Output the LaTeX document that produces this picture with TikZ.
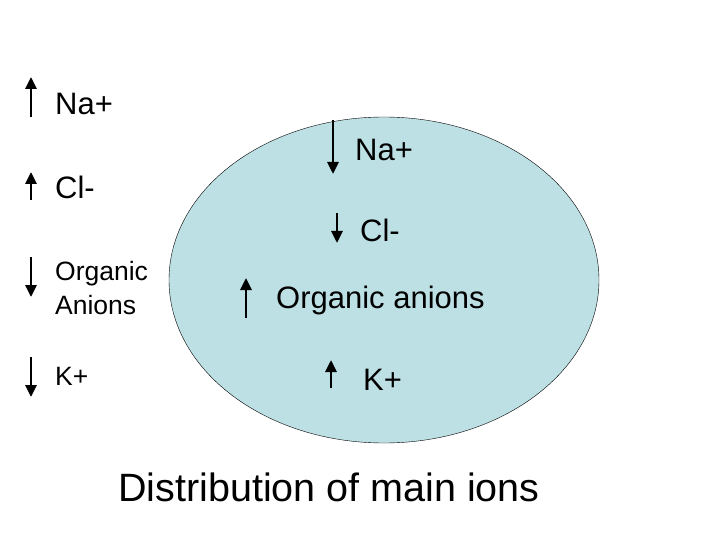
\documentclass[tikz,border=0pt]{standalone}
\usetikzlibrary{arrows.meta,shapes.geometric}
\usepackage{fontspec}
\setmainfont{Liberation Sans}
\definecolor{cell}{HTML}{BDE0E4}
\begin{document}
\begin{tikzpicture}[x=1pt,y=-1pt,
  ion/.style={-{Triangle[length=12,width=11]},line width=2.8pt},
  lbl/.style={anchor=west,inner sep=0pt,font=\fontsize{31}{33}\selectfont},
  sml/.style={anchor=west,inner sep=0pt,align=left,font=\fontsize{26.5}{34}\selectfont}]
\useasboundingbox (0,0) rectangle (720,540);
\node[draw=black,fill=cell,ellipse,minimum width=430,minimum height=326,inner sep=0pt] (cell) at (384,280) {};
% outside
\coordinate (a1) at (31,117); \coordinate (b1) at (31,77);
\draw[ion] (a1) -- (b1);
\node[lbl] (t1) at (55,104) {Na+};
\coordinate (a2) at (31,200); \coordinate (b2) at (31,172);
\draw[ion] (a2) -- (b2);
\node[lbl] (t2) at (55,187) {Cl-};
\coordinate (a3) at (31,257); \coordinate (b3) at (31,297);
\draw[ion] (a3) -- (b3);
\node[sml] (t3) at (55,288) {Organic\\Anions};
\coordinate (a4) at (31,357); \coordinate (b4) at (31,397);
\draw[ion] (a4) -- (b4);
\node[sml] (t4) at (55,376) {K+};
% inside
\coordinate (c1) at (333,120); \coordinate (d1) at (333,174);
\draw[ion] (c1) -- (d1);
\node[lbl] (u1) at (355,150) {Na+};
\coordinate (c2) at (337,213); \coordinate (d2) at (337,243);
\draw[ion] (c2) -- (d2);
\node[lbl] (u2) at (360,230) {Cl-};
\coordinate (c3) at (246,318); \coordinate (d3) at (246,278);
\draw[ion] (c3) -- (d3);
\node[lbl] (u3) at (276,300) {Organic anions};
\coordinate (c4) at (331,388); \coordinate (d4) at (331,360);
\draw[ion] (c4) -- (d4);
\node[lbl] (u4) at (363,380) {K+};
\node[anchor=west,inner sep=0pt,font=\fontsize{39.5}{42}\selectfont] (title) at (118,487) {Distribution of main ions};
\end{tikzpicture}
\end{document}
